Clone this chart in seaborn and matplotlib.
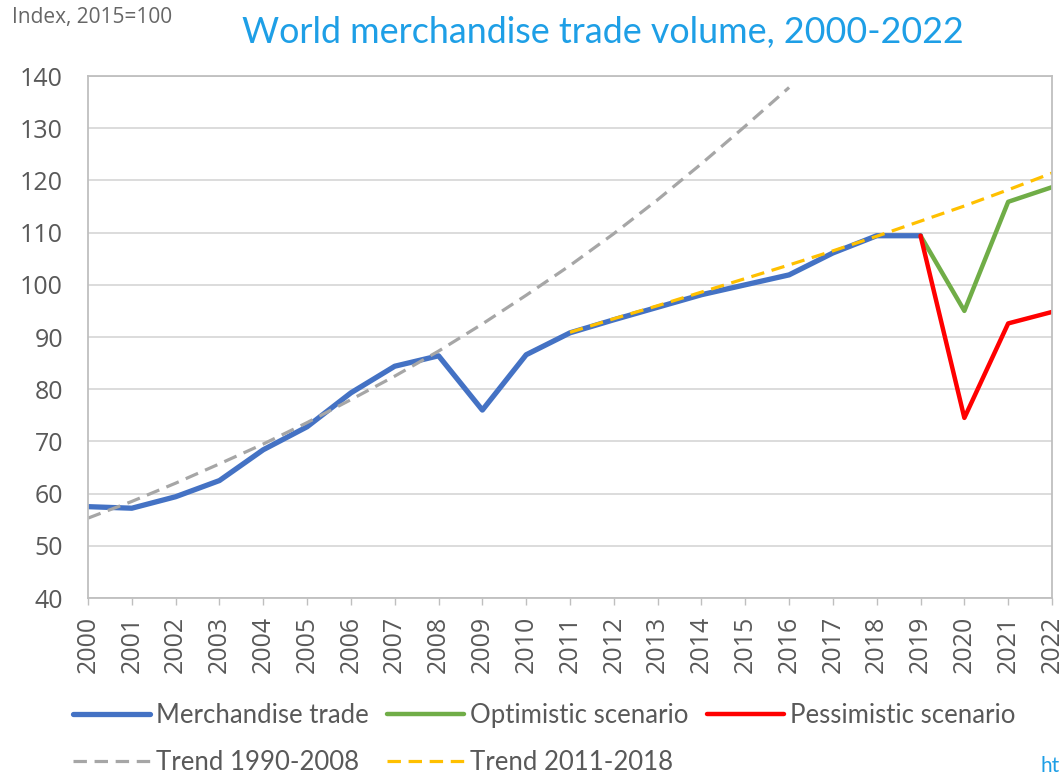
import numpy as np
import pandas as pd
import seaborn as sns
import matplotlib.pyplot as plt

# Index values, 2015 = 100
trade_years = list(range(2000, 2020))
trade = [57.5, 57.2, 59.4, 62.5, 68.4, 72.8, 79.3, 84.4, 86.4, 76.0,
         86.6, 90.8, 93.3, 95.7, 98.1, 100.0, 101.9, 106.1, 109.4, 109.4]

scenario_years = [2019, 2020, 2021, 2022]
optimistic = [109.4, 95.0, 115.9, 118.7]
pessimistic = [109.4, 74.5, 92.6, 94.8]

trend_old_years = list(range(2000, 2017))
trend_old = [55.3, 58.5, 62.0, 65.7, 69.5, 73.6, 78.0, 82.5, 87.3, 92.5,
             98.0, 103.7, 109.8, 116.3, 123.2, 130.4, 137.8]

trend_new_years = list(range(2011, 2023))
trend_new = [90.9, 93.5, 96.0, 98.6, 101.2, 103.8, 106.5, 109.3, 112.2,
             115.1, 118.2, 121.4]

year_ticks = list(range(2000, 2023))
value_ticks = list(range(40, 141, 10))

sns.set_theme(style="white")
plt.rcParams['font.family'] = ['Open Sans', 'DejaVu Sans']

TEXT = '#595959'
GRID = '#d9d9d9'
FRAME = '#bfbfbf'
LINK = '#1e9fe6'

fig = plt.figure(figsize=(10.64, 7.78), dpi=100)
ax = fig.add_axes([88 / 1064, 1 - 598 / 778, (1052 - 88) / 1064, (598 - 76) / 778])

sns.lineplot(x=trade_years, y=trade, ax=ax, color='#4472c4', lw=3.8,
             label='Merchandise trade')
sns.lineplot(x=scenario_years, y=optimistic, ax=ax, color='#70ad47', lw=3.2,
             label='Optimistic scenario')
sns.lineplot(x=scenario_years, y=pessimistic, ax=ax, color='#ff0000', lw=3.2,
             label='Pessimistic scenario')
sns.lineplot(x=trend_old_years, y=trend_old, ax=ax, color='#a6a6a6', lw=2.3,
             label='Trend 1990-2008')
sns.lineplot(x=trend_new_years, y=trend_new, ax=ax, color='#ffc000', lw=2.3,
             label='Trend 2011-2018')
for ln in ax.lines[3:5]:
    ln.set_dashes((4.2, 2.4))

ax.set_xlim(2000, 2022)
ax.set_ylim(40, 140)
ax.set_xticks(year_ticks)
ax.set_xticklabels([str(y) for y in year_ticks], rotation=90)
ax.set_yticks(value_ticks)
ax.set_yticklabels([str(v) for v in value_ticks])
ax.set_xlabel('')
ax.set_ylabel('')

ax.yaxis.grid(True, color=GRID, lw=1.3)
ax.set_axisbelow(True)
for side in ['left', 'bottom', 'top', 'right']:
    ax.spines[side].set_visible(True)
    ax.spines[side].set_color(FRAME)
    ax.spines[side].set_linewidth(1.3)

ax.tick_params(axis='x', direction='out', length=5, width=1, color=FRAME,
               pad=8, labelsize=18, labelcolor=TEXT, bottom=True)
ax.tick_params(axis='y', length=0, pad=18, labelsize=18, labelcolor=TEXT)

# Legend below the plot, three columns
handles, labels = ax.get_legend_handles_labels()
order = [0, 3, 1, 4, 2]
if ax.legend_:
    ax.legend_.remove()
leg = fig.legend([handles[i] for i in order], [labels[i] for i in order],
                 loc='upper left', bbox_to_anchor=(73 / 1064, 1 - 703 / 778),
                 ncol=3, frameon=False, handlelength=3.0, handletextpad=0.23,
                 columnspacing=0.72, labelspacing=0.85, borderpad=0, borderaxespad=0,
                 prop={'family': 'Lato', 'size': 18.5})
for t in leg.get_texts():
    t.set_color(TEXT)

fig.text(603 / 1064, 1 - 33 / 778, 'World merchandise trade volume, 2000-2022',
         ha='center', va='center', fontsize=25.8, color=LINK, family='Lato')
fig.text(12 / 1064, 1 - 18 / 778, 'Index, 2015=100', ha='left', va='center',
         fontsize=15, color='#666666', family='Open Sans')
fig.text(1041 / 1064, 1 - 766 / 778, 'ht', ha='left', va='center',
         fontsize=15, color=LINK, family='Lato')

fig.savefig('out.png', dpi=100)
